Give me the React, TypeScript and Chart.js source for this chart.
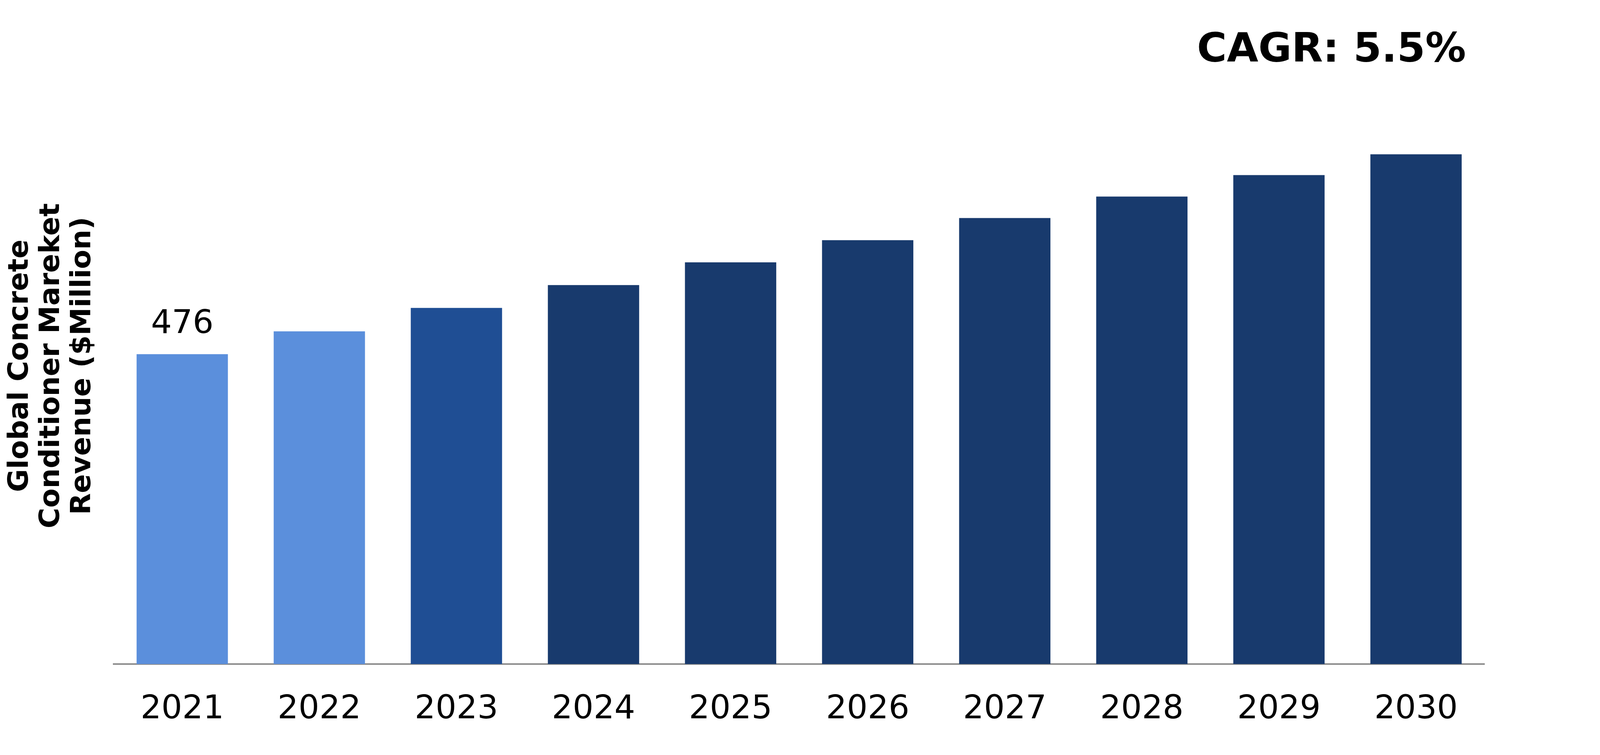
import { useEffect, useRef } from 'react';
import Chart from 'chart.js/auto';
import type { Chart as ChartJS, Plugin } from 'chart.js';

// years and revenue ($Million)
const years = ['2021', '2022', '2023', '2024', '2025', '2026', '2027', '2028', '2029', '2030'];
const revenue = [476, 511, 547, 582, 617, 651, 685, 718, 751, 783];
const barColors = [
    '#5B8FDC', '#5B8FDC', '#1F4E94',
    '#183A6D', '#183A6D', '#183A6D', '#183A6D', '#183A6D', '#183A6D', '#183A6D',
];
// only the first bar carries a value label
const labeledBars = [0];
const yTitleLines = ['Global Concrete', 'Conditioner Mareket', 'Revenue ($Million)'];
const cagrText = 'CAGR: 5.5%';

const FONT = '"DejaVu Sans", Verdana, sans-serif';
// the reference was laid out on a 6501 x 1934 page
const REF_W = 6501;
const REF_H = 1934;

function makeExtras(sx: number, sy: number): Plugin<'bar'> {
    return {
        id: 'extras',
        afterDatasetsDraw(chart) {
            const ctx = chart.ctx;
            const meta = chart.getDatasetMeta(0);
            ctx.save();
            ctx.fillStyle = '#000';
            ctx.textAlign = 'center';
            ctx.textBaseline = 'alphabetic';

            // value label above the bar
            ctx.font = `84px ${FONT}`;
            labeledBars.forEach((i) => {
                const bar = meta.data[i];
                ctx.fillText(String(revenue[i]), bar.x, bar.y - 54 * sy);
            });

            // rotated y axis title, three lines
            ctx.font = `bold 72px ${FONT}`;
            yTitleLines.forEach((line, i) => {
                ctx.save();
                ctx.translate((112 + i * 127) * sx, 937 * sy);
                ctx.rotate(-Math.PI / 2);
                ctx.fillText(line, 0, 0);
                ctx.restore();
            });

            // CAGR note
            ctx.font = `bold 104px ${FONT}`;
            ctx.fillText(cagrText, 5410 * sx, 158 * sy);
            ctx.restore();
        },
    };
}

export default function App() {
    const boxRef = useRef<HTMLDivElement | null>(null);
    const canvasRef = useRef<HTMLCanvasElement | null>(null);
    const chartRef = useRef<ChartJS<'bar'> | null>(null);

    useEffect(() => {
        const canvas = canvasRef.current;
        const box = boxRef.current;
        if (!canvas || !box) return;

        const existing = Chart.getChart(canvas);
        if (existing) existing.destroy();

        const w = box.clientWidth;
        const h = box.clientHeight;
        canvas.width = w;
        canvas.height = h;
        canvas.style.width = w + 'px';
        canvas.style.height = h + 'px';
        const sx = w / REF_W;
        const sy = h / REF_H;

        chartRef.current = new Chart(canvas, {
            type: 'bar',
            data: {
                labels: years,
                datasets: [
                    {
                        data: revenue,
                        backgroundColor: barColors,
                        borderWidth: 0,
                        barPercentage: 1,
                        categoryPercentage: 0.666,
                    },
                ],
            },
            options: {
                animation: false,
                responsive: false,
                devicePixelRatio: 1,
                layout: {
                    padding: { top: 200 * sy, left: 462 * sx, right: 469 * sx, bottom: 0 },
                },
                plugins: {
                    legend: { display: false },
                    tooltip: { enabled: false },
                },
                scales: {
                    x: {
                        grid: { display: false, drawTicks: false },
                        border: { display: true, color: '#8C8C8C', width: 4 },
                        ticks: {
                            color: '#000',
                            font: { family: FONT, size: 84 },
                            padding: 67 * sy,
                            maxRotation: 0,
                        },
                        afterFit: (scale) => {
                            scale.height = 233 * sy;
                        },
                    },
                    y: {
                        display: false,
                        min: 0,
                        max: 900,
                    },
                },
            },
            plugins: [makeExtras(sx, sy)],
        });

        return () => {
            if (chartRef.current) {
                chartRef.current.destroy();
                chartRef.current = null;
            }
        };
    }, []);

    return (
        <div
            ref={boxRef}
            style={{ position: 'fixed', left: 0, top: 0, width: '100vw', height: '100vh', background: '#fff' }}
        >
            <canvas ref={canvasRef} style={{ display: 'block' }} />
        </div>
    );
}
